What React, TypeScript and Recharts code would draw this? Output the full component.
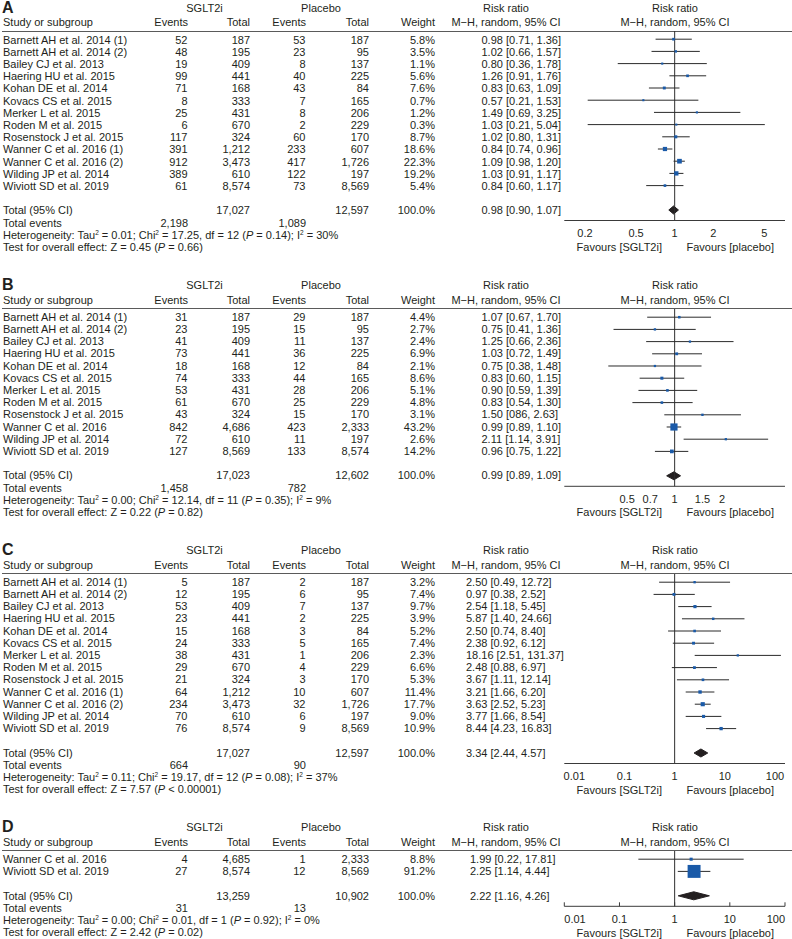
import React from "react";
import { ComposedChart, Scatter, Area, XAxis, YAxis, ReferenceLine, ErrorBar } from "recharts";

const FONT = '"Liberation Sans", Arial, Helvetica, sans-serif';
const INK = "#231f20";
const BLUE = "#1a5aa8";

// ---- panel A
const studiesA = [
  "Barnett AH et al. 2014 (1)", "Barnett AH et al. 2014 (2)", "Bailey CJ et al. 2013", "Haering HU et al. 2015",
  "Kohan DE et al. 2014", "Kovacs CS et al. 2015", "Merker L et al. 2015", "Roden M et al. 2015",
  "Rosenstock J et al. 2015", "Wanner C et al. 2016 (1)", "Wanner C et al. 2016 (2)", "Wilding JP et al. 2014",
  "Wiviott SD et al. 2019",
];
const sgltEventsA = [52, 48, 19, 99, 71, 8, 25, 6, 117, 391, 912, 389, 61];
const sgltTotalA = [187, 195, 409, 441, 168, 333, 431, 670, 324, 1212, 3473, 610, 8574];
const pboEventsA = [53, 23, 8, 40, 43, 7, 8, 2, 60, 233, 417, 122, 73];
const pboTotalA = [187, 95, 137, 225, 84, 165, 206, 229, 170, 607, 1726, 197, 8569];
const weightA = [5.8, 3.5, 1.1, 5.6, 7.6, 0.7, 1.2, 0.3, 8.7, 18.6, 22.3, 19.2, 5.4];
const rrA = [0.98, 1.02, 0.8, 1.26, 0.83, 0.57, 1.49, 1.03, 1.02, 0.84, 1.09, 1.03, 0.84];
const lowA = [0.71, 0.66, 0.36, 0.91, 0.63, 0.21, 0.69, 0.21, 0.8, 0.74, 0.98, 0.91, 0.6];
const highA = [1.36, 1.57, 1.78, 1.76, 1.09, 1.53, 3.25, 5.04, 1.31, 0.96, 1.2, 1.17, 1.17];
const sumTotalsA = [17027, 12597];
const sumEventsA = [2198, 1089];
const pooledA = [0.98, 0.9, 1.07];
const hetA = ["0.01", "17.25", "12", "0.14", "30"];
const testA = ["0.45", "=", "0.66"];
const ticksA = [0.2, 0.5, 1, 2, 5];

// ---- panel B
const studiesB = [
  "Barnett AH et al. 2014 (1)", "Barnett AH et al. 2014 (2)", "Bailey CJ et al. 2013", "Haering HU et al. 2015",
  "Kohan DE et al. 2014", "Kovacs CS et al. 2015", "Merker L et al. 2015", "Roden M et al. 2015",
  "Rosenstock J et al. 2015", "Wanner C et al. 2016", "Wilding JP et al. 2014", "Wiviott SD et al. 2019",
];
const sgltEventsB = [31, 23, 41, 73, 18, 74, 53, 61, 43, 842, 72, 127];
const sgltTotalB = [187, 195, 409, 441, 168, 333, 431, 670, 324, 4686, 610, 8569];
const pboEventsB = [29, 15, 11, 36, 12, 44, 28, 25, 15, 423, 11, 133];
const pboTotalB = [187, 95, 137, 225, 84, 165, 206, 229, 170, 2333, 197, 8574];
const weightB = [4.4, 2.7, 2.4, 6.9, 2.1, 8.6, 5.1, 4.8, 3.1, 43.2, 2.6, 14.2];
const rrB = [1.07, 0.75, 1.25, 1.03, 0.75, 0.83, 0.9, 0.83, 1.5, 0.99, 2.11, 0.96];
const lowB = [0.67, 0.41, 0.66, 0.72, 0.38, 0.6, 0.59, 0.54, 0.86, 0.89, 1.14, 0.75];
const highB = [1.7, 1.36, 2.36, 1.49, 1.48, 1.15, 1.39, 1.3, 2.63, 1.1, 3.91, 1.22];
const ciTextFixB: Record<number, string> = { 8: "1.50 [086, 2.63]" }; // as printed
const sumTotalsB = [17023, 12602];
const sumEventsB = [1458, 782];
const pooledB = [0.99, 0.89, 1.09];
const hetB = ["0.00", "12.14", "11", "0.35", "9"];
const testB = ["0.22", "=", "0.82"];
const ticksB = [0.5, 0.7, 1, 1.5, 2];

// ---- panel C
const studiesC = [
  "Barnett AH et al. 2014 (1)", "Barnett AH et al. 2014 (2)", "Bailey CJ et al. 2013", "Haering HU et al. 2015",
  "Kohan DE et al. 2014", "Kovacs CS et al. 2015", "Merker L et al. 2015", "Roden M et al. 2015",
  "Rosenstock J et al. 2015", "Wanner C et al. 2016 (1)", "Wanner C et al. 2016 (2)", "Wilding JP et al. 2014",
  "Wiviott SD et al. 2019",
];
const sgltEventsC = [5, 12, 53, 23, 15, 24, 38, 29, 21, 64, 234, 70, 76];
const sgltTotalC = [187, 195, 409, 441, 168, 333, 431, 670, 324, 1212, 3473, 610, 8574];
const pboEventsC = [2, 6, 7, 2, 3, 5, 1, 4, 3, 10, 32, 6, 9];
const pboTotalC = [187, 95, 137, 225, 84, 165, 206, 229, 170, 607, 1726, 197, 8569];
const weightC = [3.2, 7.4, 9.7, 3.9, 5.2, 7.4, 2.3, 6.6, 5.3, 11.4, 17.7, 9.0, 10.9];
const rrC = [2.5, 0.97, 2.54, 5.87, 2.5, 2.38, 18.16, 2.48, 3.67, 3.21, 3.63, 3.77, 8.44];
const lowC = [0.49, 0.38, 1.18, 1.4, 0.74, 0.92, 2.51, 0.88, 1.11, 1.66, 2.52, 1.66, 4.23];
const highC = [12.72, 2.52, 5.45, 24.66, 8.4, 6.12, 131.37, 6.97, 12.14, 6.2, 5.23, 8.54, 16.83];
const sumTotalsC = [17027, 12597];
const sumEventsC = [664, 90];
const pooledC = [3.34, 2.44, 4.57];
const hetC = ["0.11", "19.17", "12", "0.08", "37"];
const testC = ["7.57", "<", "0.00001"];
const ticksC = [0.01, 0.1, 1, 10, 100];

// ---- panel D
const studiesD = ["Wanner C et al. 2016", "Wiviott SD et al. 2019"];
const sgltEventsD = [4, 27];
const sgltTotalD = [4685, 8574];
const pboEventsD = [1, 12];
const pboTotalD = [2333, 8569];
const weightD = [8.8, 91.2];
const rrD = [1.99, 2.25];
const lowD = [0.22, 1.14];
const highD = [17.81, 4.44];
const sumTotalsD = [13259, 10902];
const sumEventsD = [31, 13];
const pooledD = [2.22, 1.16, 4.26];
const hetD = ["0.00", "0.01", "1", "0.92", "0"];
const testD = ["2.42", "=", "0.02"];
const ticksD = [0.01, 0.1, 1, 10, 100];

const panels = [
  { letter: "A", top: 7.8, studies: studiesA, evS: sgltEventsA, totS: sgltTotalA, evP: pboEventsA, totP: pboTotalA,
    weight: weightA, rr: rrA, low: lowA, high: highA, fix: {} as Record<number, string>, totals: sumTotalsA,
    events: sumEventsA, pooled: pooledA, het: hetA, test: testA, ticks: ticksA,
    domain: [0.138, 7.24], ciLeft: 481.5, edgeTicks: false },
  { letter: "B", top: 285, studies: studiesB, evS: sgltEventsB, totS: sgltTotalB, evP: pboEventsB, totP: pboTotalB,
    weight: weightB, rr: rrB, low: lowB, high: highB, fix: ciTextFixB, totals: sumTotalsB,
    events: sumEventsB, pooled: pooledB, het: hetB, test: testB, ticks: ticksB,
    domain: [0.2, 5], ciLeft: 481.5, edgeTicks: false },
  { letter: "C", top: 550, studies: studiesC, evS: sgltEventsC, totS: sgltTotalC, evP: pboEventsC, totP: pboTotalC,
    weight: weightC, rr: rrC, low: lowC, high: highC, fix: {} as Record<number, string>, totals: sumTotalsC,
    events: sumEventsC, pooled: pooledC, het: hetC, test: testC, ticks: ticksC,
    domain: [Math.pow(10, -2.2), Math.pow(10, 2.2)], ciLeft: 466, edgeTicks: false },
  { letter: "D", top: 827.3, studies: studiesD, evS: sgltEventsD, totS: sgltTotalD, evP: pboEventsD, totP: pboTotalD,
    weight: weightD, rr: rrD, low: lowD, high: highD, fix: {} as Record<number, string>, totals: sumTotalsD,
    events: sumEventsD, pooled: pooledD, het: hetD, test: testD, ticks: ticksD,
    domain: [0.01, 100], ciLeft: 470, edgeTicks: true },
];

const num = (v: number) => v.toLocaleString("en-US");
const f2 = (v: number) => v.toFixed(2);
const ciText = (r: number, l: number, h: number) => `${f2(r)} [${f2(l)}, ${f2(h)}]`;

function T({ x, y, a = "l", children, style }: any) {
  const tx = a === "r" ? "-100%" : a === "c" ? "-50%" : "0";
  return (
    <div
      style={{
        position: "absolute", left: x, top: y, transform: `translate(${tx}, -50%)`,
        whiteSpace: "nowrap", lineHeight: 1, ...style,
      }}
    >
      {children}
    </div>
  );
}

const sup: React.CSSProperties = { fontSize: 6.5, position: "relative", top: -4, verticalAlign: "baseline" };

const STEP = 12.2;
const CHART_LEFT = 540;
const PLOT_LEFT = 564.3;
const PLOT_RIGHT = 785;
const AXIS_H = 30;

function Panel({ p }: { p: (typeof panels)[number] }) {
  const n = p.studies.length;
  const row2 = p.top + 14.5;
  const lineY = p.top + 23.5;
  const row0 = p.top + 31.7;
  const yRow = (i: number) => row0 + i * STEP;
  const totalY = yRow(n + 1);
  const axisY = totalY + 10.5;
  const favY = axisY + 26.5;

  // y domain in row units so that rows land on the table lines
  const vTop = -(row0 - lineY) / STEP;
  const vBot = n + 1 + (axisY - totalY) / STEP;

  const points = p.studies.map((_, i) => ({
    x: p.rr[i], y: i, w: p.weight[i], err: [p.rr[i] - p.low[i], p.high[i] - p.rr[i]],
  }));
  const dh = 0.33;
  const diamond = [
    { x: p.pooled[1], range: [n + 1, n + 1] },
    { x: p.pooled[0], range: [n + 1 - dh, n + 1 + dh] },
    { x: p.pooled[2], range: [n + 1, n + 1] },
  ];

  const Square = (props: any) => {
    const { cx, cy, payload } = props;
    if (cx == null || cy == null) return null;
    const s = 2 + 0.12 * payload.w;
    return <rect x={cx - s / 2} y={cy - s / 2} width={s} height={s} fill={BLUE} />;
  };

  const Tick = (props: any) => {
    const { x, y, payload, index } = props;
    let anchor: "start" | "middle" | "end" = "middle";
    if (p.edgeTicks && index === 0) anchor = "start";
    if (p.edgeTicks && index === p.ticks.length - 1) anchor = "end";
    const ay = y - 9;
    return (
      <g>
        {p.edgeTicks && <line x1={x} x2={x} y1={ay} y2={ay - 4} stroke="#3a3a3a" strokeWidth={1} />}
        <text x={x} y={y} dy="0.71em" textAnchor={anchor} fontSize={11} fontFamily={FONT} fill={INK}>
          {String(payload.value)}
        </text>
      </g>
    );
  };

  return (
    <>
      {/* header */}
      <T x={2} y={p.top} style={{ fontWeight: "bold", fontSize: 16 }}>{p.letter}</T>
      <T x={204.5} y={p.top} a="c">SGLT2i</T>
      <T x={321} y={p.top} a="c">Placebo</T>
      <T x={506} y={p.top} a="c">Risk ratio</T>
      <T x={675} y={p.top} a="c">Risk ratio</T>
      <T x={3} y={row2}>Study or subgroup</T>
      <T x={188} y={row2} a="r">Events</T>
      <T x={250} y={row2} a="r">Total</T>
      <T x={306} y={row2} a="r">Events</T>
      <T x={369} y={row2} a="r">Total</T>
      <T x={435} y={row2} a="r">Weight</T>
      <T x={506} y={row2} a="c">M−H, random, 95% CI</T>
      <T x={675} y={row2} a="c">M−H, random, 95% CI</T>
      <div style={{ position: "absolute", left: 2, top: lineY - 0.5, width: 790, height: 1, background: "#5a5a5a" }} />

      {/* study rows */}
      {p.studies.map((s, i) => (
        <React.Fragment key={s}>
          <T x={3} y={yRow(i)}>{s}</T>
          <T x={187.5} y={yRow(i)} a="r">{num(p.evS[i])}</T>
          <T x={250} y={yRow(i)} a="r">{num(p.totS[i])}</T>
          <T x={305.5} y={yRow(i)} a="r">{num(p.evP[i])}</T>
          <T x={369} y={yRow(i)} a="r">{num(p.totP[i])}</T>
          <T x={435} y={yRow(i)} a="r">{p.weight[i].toFixed(1)}%</T>
          <T x={p.ciLeft} y={yRow(i)}>{p.fix[i] ?? ciText(p.rr[i], p.low[i], p.high[i])}</T>
        </React.Fragment>
      ))}

      {/* totals */}
      <T x={3} y={totalY}>Total (95% CI)</T>
      <T x={250} y={totalY} a="r">{num(p.totals[0])}</T>
      <T x={369} y={totalY} a="r">{num(p.totals[1])}</T>
      <T x={435} y={totalY} a="r">100.0%</T>
      <T x={p.ciLeft} y={totalY}>{ciText(p.pooled[0], p.pooled[1], p.pooled[2])}</T>
      <T x={3} y={totalY + STEP}>Total events</T>
      <T x={188} y={totalY + STEP} a="r">{num(p.events[0])}</T>
      <T x={306} y={totalY + STEP} a="r">{num(p.events[1])}</T>
      <T x={3} y={totalY + 2 * STEP}>
        Heterogeneity: Tau<span style={sup}>2</span> = {p.het[0]}; Chi<span style={sup}>2</span> = {p.het[1]}, df ={" "}
        {p.het[2]} (<i>P</i> = {p.het[3]}); I<span style={sup}>2</span> = {p.het[4]}%
      </T>
      <T x={3} y={totalY + 3 * STEP}>
        Test for overall effect: Z = {p.test[0]} (<i>P</i> {p.test[1]} {p.test[2]})
      </T>

      {/* forest plot */}
      <div style={{ position: "absolute", left: CHART_LEFT, top: lineY }}>
        <ComposedChart
          width={792 - CHART_LEFT}
          height={axisY - lineY + AXIS_H}
          data={diamond}
          margin={{ top: 0, right: 792 - PLOT_RIGHT, bottom: 0, left: PLOT_LEFT - CHART_LEFT }}
        >
          <XAxis
            type="number"
            dataKey="x"
            scale="log"
            domain={p.domain}
            allowDataOverflow
            ticks={p.ticks}
            interval={0}
            height={AXIS_H}
            tickLine={false}
            tickMargin={3}
            axisLine={{ stroke: "#3a3a3a", strokeWidth: 1 }}
            tick={<Tick />}
          />
          <YAxis type="number" dataKey="y" domain={[vTop, vBot]} reversed hide allowDataOverflow />
          <ReferenceLine x={1} stroke="#2e2e2e" strokeWidth={1} />
          <Area
            type="linear"
            dataKey="range"
            stroke={INK}
            strokeWidth={1}
            fill={INK}
            fillOpacity={1}
            dot={false}
            activeDot={false}
            isAnimationActive={false}
          />
          <Scatter data={points} fill={BLUE} shape={Square} isAnimationActive={false}>
            <ErrorBar dataKey="err" direction="x" width={0} stroke="#2a2a2a" strokeWidth={1} isAnimationActive={false} />
          </Scatter>
        </ComposedChart>
      </div>
      <T x={662} y={favY} a="r">Favours [SGLT2i]</T>
      <T x={686.5} y={favY}>Favours [placebo]</T>
    </>
  );
}

export default function App() {
  return (
    <div
      style={{
        position: "absolute", left: 0, top: 0, width: 792, height: 939, background: "#fff",
        fontFamily: FONT, fontSize: 11, color: INK, overflow: "hidden",
      }}
    >
      {panels.map((p) => (
        <Panel key={p.letter} p={p} />
      ))}
    </div>
  );
}
